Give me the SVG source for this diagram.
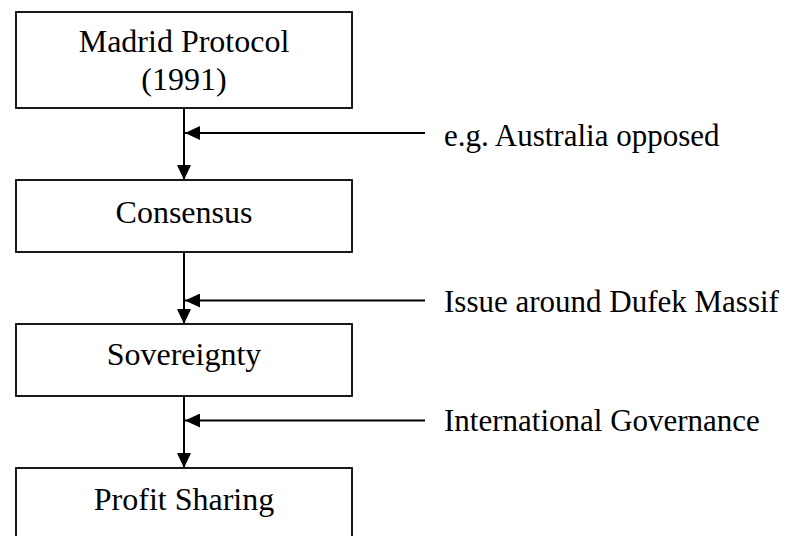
<svg xmlns="http://www.w3.org/2000/svg" width="792" height="536" viewBox="0 0 792 536">
<defs>
<style>
.box{fill:#fff;stroke:#000;stroke-width:1.8}
.t{font-family:"Liberation Serif","Times New Roman",serif;font-size:32px;fill:#000}
.lb{font-family:"Liberation Serif","Times New Roman",serif;font-size:31px;fill:#000}
.c{stroke:#000;stroke-width:2;fill:none}
</style>
<marker id="ah" markerUnits="userSpaceOnUse" markerWidth="16" markerHeight="14" refX="15" refY="7" orient="auto">
<path d="M0,0 L15,7 L0,14 Z" fill="#000"/>
</marker>
</defs>
<rect width="792" height="536" fill="#fff"/>
<g id="n1">
<rect class="box" x="16" y="12" width="336" height="96"/>
<text class="t" x="184" y="52" text-anchor="middle">Madrid Protocol</text>
<text class="t" x="184" y="90" text-anchor="middle">(1991)</text>
</g>
<g id="n2">
<rect class="box" x="16" y="180" width="336" height="72"/>
<text class="t" x="184" y="222.5" text-anchor="middle">Consensus</text>
</g>
<g id="n3">
<rect class="box" x="16" y="324" width="336" height="72"/>
<text class="t" x="184" y="365" text-anchor="middle">Sovereignty</text>
</g>
<g id="n4">
<rect class="box" x="16" y="468" width="336" height="72"/>
<text class="t" x="184" y="510" text-anchor="middle">Profit Sharing</text>
</g>
<g id="l1"><text class="lb" x="444" y="146">e.g. Australia opposed</text></g>
<g id="l2"><text class="lb" x="444" y="311.5">Issue around Dufek Massif</text></g>
<g id="l3"><text class="lb" x="444" y="431">International Governance</text></g>
<g id="connectors">
<line class="c" x1="184" y1="108" x2="184" y2="180" marker-end="url(#ah)"/>
<line class="c" x1="184" y1="252" x2="184" y2="324" marker-end="url(#ah)"/>
<line class="c" x1="184" y1="396" x2="184" y2="468" marker-end="url(#ah)"/>
<line class="c" x1="425" y1="133" x2="185" y2="133" marker-end="url(#ah)"/>
<line class="c" x1="425" y1="300.5" x2="185" y2="300.5" marker-end="url(#ah)"/>
<line class="c" x1="425" y1="420.5" x2="185" y2="420.5" marker-end="url(#ah)"/>
</g>
</svg>
